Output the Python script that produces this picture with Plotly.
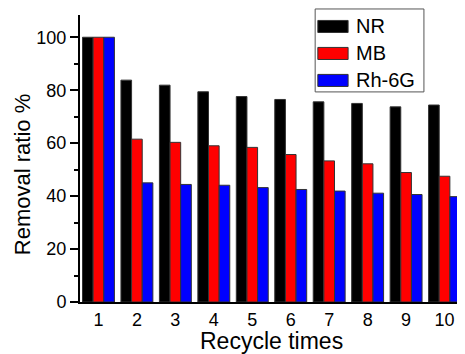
import plotly.graph_objects as go

cycles = ["1", "2", "3", "4", "5", "6", "7", "8", "9", "10"]
nr = [100, 83.8, 81.9, 79.4, 77.6, 76.5, 75.6, 75.0, 73.7, 74.4]
mb = [100, 61.5, 60.3, 59.0, 58.4, 55.7, 53.3, 52.2, 48.9, 47.5]
rh6g = [100, 45.0, 44.4, 44.1, 43.2, 42.5, 41.9, 41.1, 40.6, 39.8]
series_names = ["NR", "MB", "Rh-6G"]
series_colors = ["#000000", "#ff0000", "#0000ff"]
x_title = "Recycle times"
y_title = "Removal ratio %"

FONT = "Liberation Sans, Arial, sans-serif"

fig = go.Figure()
for name, vals, col in zip(series_names, [nr, mb, rh6g], series_colors):
    fig.add_trace(go.Bar(
        x=cycles, y=vals, name=name,
        marker=dict(color=col, line=dict(color="#333333", width=1)),
        showlegend=False,
    ))

# custom legend (box + wide colour swatches)
lx0, lx1, ly_top, ly_bot = 0.614, 0.898, 1.021, 0.732
shapes = [dict(type="rect", xref="paper", yref="paper", x0=lx0, x1=lx1, y0=ly_bot, y1=ly_top,
               line=dict(color="#555555", width=1), fillcolor="white")]
annotations = []
centers = [0.960, 0.866, 0.772]
for name, col, yc in zip(series_names, series_colors, centers):
    shapes.append(dict(type="rect", xref="paper", yref="paper",
                       x0=0.621, x1=0.700, y0=yc - 0.021, y1=yc + 0.021,
                       line=dict(color="#333333", width=1), fillcolor=col))
    annotations.append(dict(x=0.716, y=yc, xref="paper", yref="paper", text=name,
                            showarrow=False, xanchor="left", yanchor="middle",
                            font=dict(family=FONT, size=20, color="black")))

annotations.append(dict(x=0.5, y=-0.137, xref="paper", yref="paper", text=x_title,
                        showarrow=False, xanchor="center", yanchor="middle",
                        font=dict(family=FONT, size=23, color="black")))
annotations.append(dict(x=-0.151, y=0.4425, xref="paper", yref="paper", text=y_title,
                        showarrow=False, xanchor="center", yanchor="middle", textangle=-90,
                        font=dict(family=FONT, size=22, color="black")))

fig.update_layout(
    width=457, height=346,
    margin=dict(l=72, r=2, t=7, b=52),
    paper_bgcolor="white", plot_bgcolor="white",
    barmode="group", bargap=0.17, bargroupgap=0,
    font=dict(family=FONT, color="black"),
    shapes=shapes, annotations=annotations,
    xaxis=dict(
        range=[-0.48, 9.48], showline=True, linecolor="black", linewidth=2,
        ticks="",
        tickfont=dict(family=FONT, size=18, color="black"),
        showgrid=False, zeroline=False,
    ),
    yaxis=dict(
        range=[0, 108.4], showline=True, linecolor="black", linewidth=2,
        tickvals=[0, 20, 40, 60, 80, 100],
        ticks="outside", ticklen=8, tickwidth=2, tickcolor="black",
        minor=dict(ticks="outside", ticklen=4, tickwidth=2, tickcolor="black", dtick=10),
        tickfont=dict(family=FONT, size=18, color="black"),
        showgrid=False, zeroline=False,
    ),
)

fig.write_html("out.html")
